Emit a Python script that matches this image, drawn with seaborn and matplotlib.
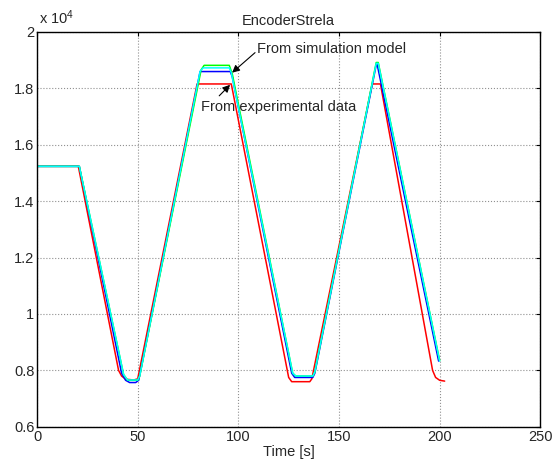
import numpy as np
import pandas as pd
import matplotlib
matplotlib.use("Agg")
import matplotlib.pyplot as plt
import seaborn as sns

# Encoder readings (counts), breakpoints of each trace
red_t = [0, 20.5, 40.5, 42, 44, 48, 50, 79.5, 96.5, 125, 126.5, 135.5, 136.5, 166.5, 170.6, 196.5, 198, 200, 202.5]
red_y = [15230, 15230, 8000, 7800, 7690, 7660, 7700, 18150, 18150, 7750, 7600, 7600, 7700, 18150, 18150, 8000, 7750, 7650, 7620]

blue_t = [0, 21, 42, 44, 46, 49, 50.5, 81, 96, 97, 126.5, 128, 137, 138, 168.5, 169, 199.5]
blue_y = [15230, 15230, 7900, 7650, 7570, 7570, 7650, 18590, 18590, 18400, 7900, 7750, 7750, 7900, 18830, 18830, 8330]

green_t = [0, 21, 43, 45, 50, 51, 81.5, 83, 95.5, 97, 127, 128.5, 137, 138, 168.5, 169.5, 200]
green_y = [15230, 15230, 7850, 7650, 7650, 7800, 18650, 18810, 18810, 18500, 7900, 7800, 7800, 7950, 18910, 18910, 8350]

cyan_t = [0, 21, 43, 45, 50, 51, 81, 82.5, 95.5, 96.5, 127, 128.5, 137, 138, 168.5, 169.5, 200]
cyan_y = [15230, 15230, 7850, 7660, 7660, 7800, 18600, 18720, 18720, 18550, 7900, 7800, 7800, 7950, 18880, 18880, 8330]

series = [("experiment", red_t, red_y, "#ff0000"),
          ("model blue", blue_t, blue_y, "#0000ff"),
          ("model green", green_t, green_y, "#00ff00"),
          ("model cyan", cyan_t, cyan_y, "#00ffff")]

x_ticks = [0, 50, 100, 150, 200, 250]
y_ticks = [6000, 8000, 10000, 12000, 14000, 16000, 18000, 20000]
y_labels = ["0.6", "0.8", "1", "1.2", "1.4", "1.6", "1.8", "2"]

sns.set_theme(style="white")
plt.rcParams["font.family"] = ["Liberation Sans", "DejaVu Sans"]
plt.rcParams["mathtext.fontset"] = "custom"
plt.rcParams["mathtext.rm"] = "Liberation Sans"
plt.rcParams["mathtext.it"] = "Liberation Sans"

fs = 10.5

fig = plt.figure(figsize=(5.53, 4.67), dpi=100)
ax = fig.add_axes([0.067, 0.086, 0.91, 0.846])

for name, t, y, color in series:
    df = pd.DataFrame({"t": t, "y": y})
    sns.lineplot(data=df, x="t", y="y", ax=ax, color=color, linewidth=1.1,
                 sort=False, estimator=None, legend=False)

ax.set_xlim(0, 250)
ax.set_ylim(6000, 20000)
ax.set_xticks(x_ticks)
ax.set_xticklabels([str(v) for v in x_ticks])
ax.set_yticks(y_ticks)
ax.set_yticklabels(y_labels)
ax.tick_params(direction="in", length=3, width=0.8, labelsize=fs, color="black",
               top=True, right=True, pad=2)
ax.grid(True, color="#909090", linestyle=":", linewidth=0.8)
for sp in ax.spines.values():
    sp.set_color("black")
    sp.set_linewidth(1.0)

ax.set_xlabel("Time [s]", fontsize=fs, labelpad=1)
ax.set_ylabel("")
ax.set_title("EncoderStrela", fontsize=fs, pad=5)
ax.text(0.003, 1.012, r"x 10$^{4}$", transform=ax.transAxes, fontsize=fs,
        ha="left", va="bottom")

arrow = dict(arrowstyle="-|>", color="black", lw=0.8, mutation_scale=11,
             shrinkA=0, shrinkB=0)
ax.annotate("", xy=(96.9, 18550), xytext=(108.3, 19260), arrowprops=arrow)
ax.annotate("", xy=(95.9, 18120), xytext=(90.5, 17730), arrowprops=arrow)
ax.text(109.5, 19400, "From simulation model", fontsize=fs, ha="left", va="center")
ax.text(81.4, 17350, "From experimental data", fontsize=fs, ha="left", va="center")

fig.savefig("out.png", dpi=100)
